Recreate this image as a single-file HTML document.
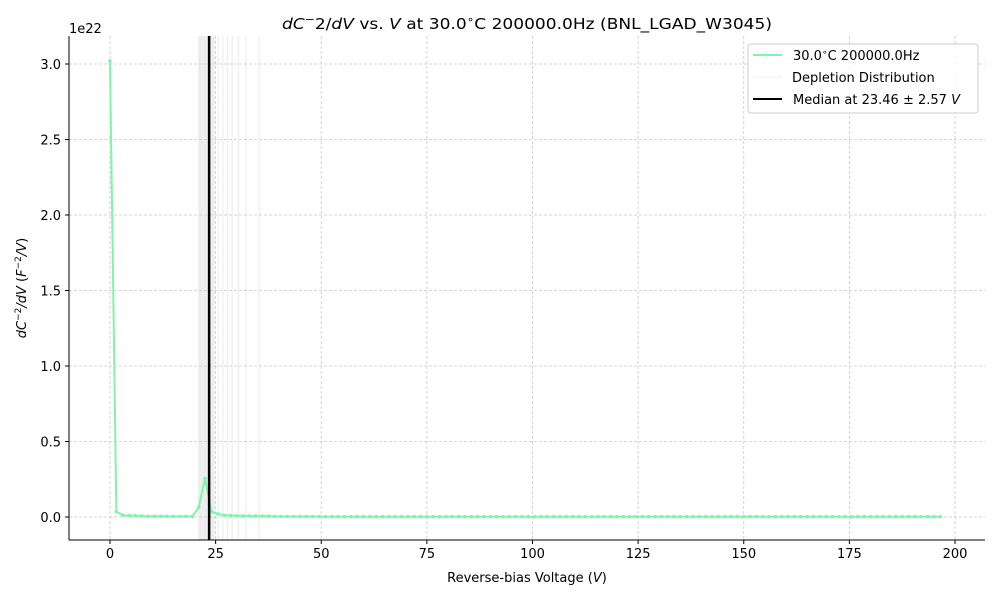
<!DOCTYPE html>
<html><head><meta charset="utf-8"><style>
body{margin:0;background:#fff;font-family:"Liberation Sans","DejaVu Sans",sans-serif}
svg text{font-family:"DejaVu Sans","Liberation Sans",sans-serif;fill:#000}
</style></head><body>
<svg id="chart" width="1000" height="600" xmlns="http://www.w3.org/2000/svg">
<rect width="1000" height="600" fill="#fff"/>
<g id="depl"></g>
<g id="grid"></g>
<g id="series"></g>
<g id="axes"></g>
<text x="527" y="29" font-size="15.5" text-anchor="middle" textLength="490" lengthAdjust="spacingAndGlyphs"><tspan font-style="italic">dC</tspan><tspan dy="-6" font-size="11">−</tspan><tspan dy="6">2/</tspan><tspan font-style="italic">dV</tspan> vs. <tspan font-style="italic">V</tspan> at 30.0<tspan dy="-6" font-size="11">∘</tspan><tspan dy="6">C 200000.0Hz (BNL_LGAD_W3045)</tspan></text>
<text x="527" y="582" font-size="13" text-anchor="middle">Reverse-bias Voltage (<tspan font-style="italic">V</tspan>)</text>
<text transform="translate(26,288) rotate(-90)" font-size="13" text-anchor="middle"><tspan font-style="italic">dC</tspan><tspan dy="-5" font-size="9">−2</tspan><tspan dy="5" font-style="italic">/dV</tspan> (<tspan font-style="italic">F</tspan><tspan dy="-5" font-size="9">−2</tspan><tspan dy="5" font-style="italic">/V</tspan>)</text>
<text x="69" y="33" font-size="13">1e22</text>
<g>
<rect x="748" y="44" width="230" height="69" rx="3" fill="#fff" fill-opacity="0.8" stroke="#ccc"/>
<line x1="753" y1="55" x2="782" y2="55" stroke="#7ff5ac" stroke-width="2"/><circle cx="767" cy="55" r="1.5" fill="#7ff5ac"/>
<text x="793" y="60" font-size="13">30.0<tspan dy="-5" font-size="9">∘</tspan><tspan dy="5">C 200000.0Hz</tspan></text>
<line x1="753" y1="77" x2="782" y2="77" stroke="#eee" stroke-width="1"/>
<text x="792" y="82" font-size="13">Depletion Distribution</text>
<line x1="753" y1="99" x2="782" y2="99" stroke="#000" stroke-width="2"/>
<text x="793" y="104" font-size="13">Median at 23.46 ± 2.57 <tspan font-style="italic">V</tspan></text>
</g>
</svg>
<script>
const xVals=[0,1.5,3,4.5,6,7.5,9,10.5,12,13.5,15,16.5,18,19.5,21,22.5,24,25.5,27,28.5,30,31.5,33,34.5,36,37.5,39,40.5,42,43.5,45,46.5,48,49.5];
const yVals=[3.02,0.035,0.012,0.01,0.008,0.006,0.005,0.005,0.005,0.005,0.004,0.004,0.004,0.004,0.065,0.255,0.035,0.02,0.012,0.01,0.008,0.007,0.007,0.006,0.006,0.006,0.004,0.004,0.003,0.003,0.003,0.003,0.003,0.003];
const tailStart=51;const tailEnd=197.5;const tailStep=1.5;const tailVal=0.002;
const xTicks=[0,25,50,75,100,125,150,175,200];
const yTicks=[0,0.5,1.0,1.5,2.0,2.5,3.0];
const yTickLabels=["0.0","0.5","1.0","1.5","2.0","2.5","3.0"];
const deplLines=[21.0,21.3,21.6,21.9,22.2,22.5,22.8,23.1,23.4,23.7,24.0,24.3,24.6,25.6,26.7,27.8,28.9,30.4,32.2,35.3];
const median=23.46;
const L=69,R=985,T=36,B=540;
const sx=v=>110+v*4.225, sy=v=>517-v*151;
const NS="http://www.w3.org/2000/svg";
function mk(tag,attrs,parent){const e=document.createElementNS(NS,tag);for(const k in attrs)e.setAttribute(k,attrs[k]);parent.appendChild(e);return e;}
const X=[...xVals],Y=[...yVals];
for(let v=tailStart;v<=tailEnd;v+=tailStep){X.push(v);Y.push(tailVal);}
const depl=document.getElementById('depl');
deplLines.forEach(v=>{const l=mk('line',{x1:sx(v),x2:sx(v),y1:T,y2:B,stroke:'#000','stroke-opacity':0.06,'stroke-width':1.5},depl);

});
const grid=document.getElementById('grid'),axes=document.getElementById('axes');
xTicks.forEach(v=>{const g=mk('line',{x1:sx(v),x2:sx(v),y1:T,y2:B,stroke:'#b0b0b0','stroke-width':0.8,'stroke-dasharray':'3,2','stroke-opacity':0.7},grid);


mk('line',{x1:sx(v),x2:sx(v),y1:B,y2:B+4,stroke:'#000'},axes);
const t=mk('text',{x:sx(v),y:B+18,'font-size':13,'text-anchor':'middle'},axes);t.textContent=v;

});
yTicks.forEach((v,i)=>{const g=mk('line',{x1:L,x2:R,y1:sy(v),y2:sy(v),stroke:'#b0b0b0','stroke-width':0.8,'stroke-dasharray':'3,2','stroke-opacity':0.7},grid);


mk('line',{x1:L-4,x2:L,y1:sy(v),y2:sy(v),stroke:'#000'},axes);
const t=mk('text',{x:L-8,y:sy(v)+5,'font-size':13,'text-anchor':'end'},axes);t.textContent=yTickLabels[i];

});
mk('line',{x1:L,x2:L,y1:T,y2:B,stroke:'#000','stroke-width':1},axes);
mk('line',{x1:L,x2:R,y1:B,y2:B,stroke:'#000','stroke-width':1},axes);
const ser=document.getElementById('series');
const p=mk('polyline',{points:X.map((v,i)=>sx(v)+','+sy(Y[i])).join(' '),fill:'none',stroke:'#7ff5ac','stroke-width':2},ser);


X.forEach((v,i)=>{const c=mk('circle',{cx:sx(v),cy:sy(Y[i]),r:1.8,fill:'#7ff5ac'},ser);

});
const m=mk('line',{x1:sx(median),x2:sx(median),y1:T,y2:B,stroke:'#000','stroke-width':2.5},ser);


</script>
</body></html>
